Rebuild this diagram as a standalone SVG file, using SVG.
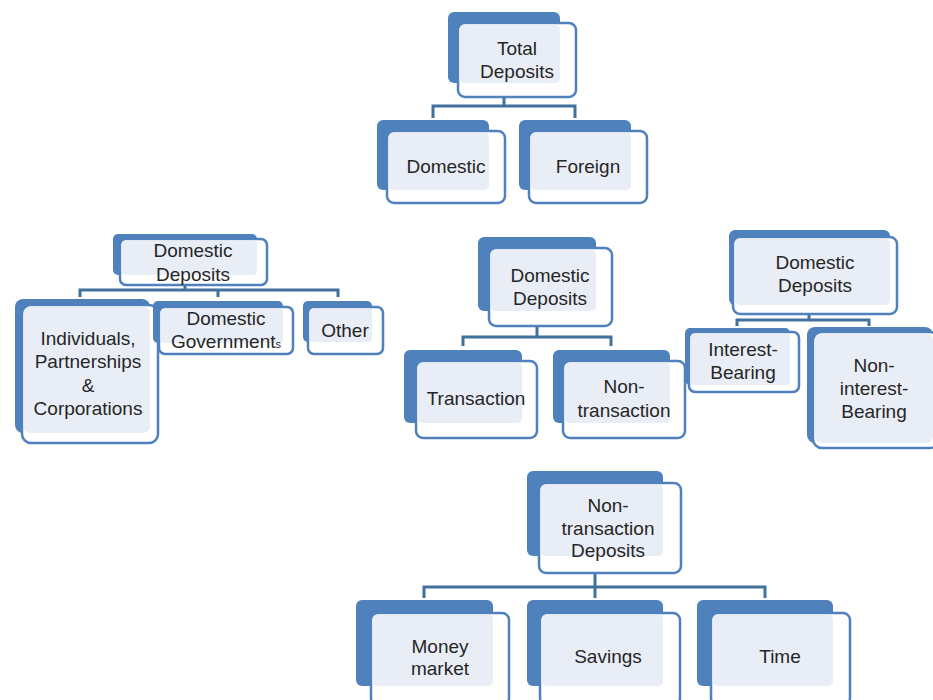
<svg xmlns="http://www.w3.org/2000/svg" width="933" height="700" viewBox="0 0 933 700">
<style>
.bk{fill:#4f81bd}
.fr{fill:#ffffff;stroke:#4f81bd;stroke-width:2.5}
.in{fill:#e9eef6}
.c{fill:none;stroke:#41719c;stroke-width:3}
text{font-family:"Liberation Sans",Arial,sans-serif;font-size:19px;fill:#262626;text-anchor:middle}
</style>
<rect width="933" height="700" fill="#ffffff"/>
<g id="connectors">
<path class="c" d="M504 97V106M433 118V106H575V118"/>
<path class="c" d="M185 285V290M80 297V290H338V297M218 290V297"/>
<path class="c" d="M537 326V337M463 346V337H611V346"/>
<path class="c" d="M809 314V320M737 326V320H869V326"/>
<path class="c" d="M595 573V587M424 598V587H765V598M595 587V598"/>
</g>
<g id="total">
<rect class="bk" x="448" y="12" width="112" height="71" rx="6"/>
<rect class="fr" x="458" y="23" width="118" height="74" rx="7"/>
<rect class="in" x="459.5" y="24.5" width="100.5" height="58.5" rx="5"/>
<text x="517" y="55">Total</text><text x="517" y="78">Deposits</text>
</g>
<g id="domestic">
<rect class="bk" x="377" y="120" width="112" height="70" rx="6"/>
<rect class="fr" x="387" y="131" width="118" height="72" rx="7"/>
<rect class="in" x="388.5" y="132.5" width="100.5" height="57.5" rx="5"/>
<text x="446" y="173">Domestic</text>
</g>
<g id="foreign">
<rect class="bk" x="519" y="120" width="112" height="70" rx="6"/>
<rect class="fr" x="529" y="131" width="118" height="72" rx="7"/>
<rect class="in" x="530.5" y="132.5" width="100.5" height="57.5" rx="5"/>
<text x="588" y="173">Foreign</text>
</g>
<g id="dd-left">
<rect class="bk" x="113" y="234" width="144" height="41" rx="5"/>
<rect class="fr" x="120" y="239" width="147" height="46" rx="6"/>
<rect class="in" x="121.5" y="240.5" width="135.5" height="34.5" rx="4"/>
<text x="193" y="257">Domestic</text><text x="193" y="281">Deposits</text>
</g>
<g id="individuals">
<rect class="bk" x="15" y="299" width="135" height="134" rx="8"/>
<rect class="fr" x="22" y="305" width="136" height="138" rx="9"/>
<rect class="in" x="23.5" y="306.5" width="126.5" height="126.5" rx="7"/>
<text x="88" y="345">Individuals,</text><text x="88" y="368">Partnerships</text><text x="88" y="392">&amp;</text><text x="88" y="415">Corporations</text>
</g>
<g id="governments">
<rect class="bk" x="153" y="301" width="130" height="42" rx="5"/>
<rect class="fr" x="159" y="307" width="134" height="47" rx="6"/>
<rect class="in" x="160.5" y="308.5" width="122.5" height="34.5" rx="4"/>
<text x="226" y="325">Domestic</text><text x="226" y="348">Government<tspan font-size="11px">s</tspan></text>
</g>
<g id="other">
<rect class="bk" x="303" y="301" width="69" height="41" rx="5"/>
<rect class="fr" x="308" y="307" width="75" height="47" rx="6"/>
<rect class="in" x="309.5" y="308.5" width="62.5" height="33.5" rx="4"/>
<text x="345" y="337">Other</text>
</g>
<g id="dd-mid">
<rect class="bk" x="478" y="237" width="118" height="74" rx="6"/>
<rect class="fr" x="489" y="248" width="123" height="78" rx="7"/>
<rect class="in" x="490.5" y="249.5" width="105.5" height="61.5" rx="5"/>
<text x="550" y="282">Domestic</text><text x="550" y="305">Deposits</text>
</g>
<g id="transaction">
<rect class="bk" x="404" y="350" width="118" height="73" rx="6"/>
<rect class="fr" x="416" y="361" width="121" height="77" rx="7"/>
<rect class="in" x="417.5" y="362.5" width="104.5" height="60.5" rx="5"/>
<text x="476" y="405">Transaction</text>
</g>
<g id="nontransaction">
<rect class="bk" x="553" y="350" width="117" height="73" rx="6"/>
<rect class="fr" x="563" y="361" width="122" height="77" rx="7"/>
<rect class="in" x="564.5" y="362.5" width="105.5" height="60.5" rx="5"/>
<text x="624" y="393">Non-</text><text x="624" y="417">transaction</text>
</g>
<g id="dd-right">
<rect class="bk" x="729" y="230" width="161" height="75" rx="6"/>
<rect class="fr" x="733" y="237" width="164" height="77" rx="7"/>
<rect class="in" x="734.5" y="238.5" width="155.5" height="66.5" rx="5"/>
<text x="815" y="269">Domestic</text><text x="815" y="292">Deposits</text>
</g>
<g id="interest">
<rect class="bk" x="685" y="328" width="105" height="57" rx="5"/>
<rect class="fr" x="689" y="332" width="110" height="60" rx="6"/>
<rect class="in" x="690.5" y="333.5" width="99.5" height="51.5" rx="4"/>
<text x="743" y="356">Interest-</text><text x="743" y="379">Bearing</text>
</g>
<g id="noninterest">
<rect class="bk" x="807" y="327" width="126" height="116" rx="8"/>
<rect class="fr" x="813" y="332" width="126" height="116" rx="9"/>
<rect class="in" x="814.5" y="333.5" width="118.5" height="109.5" rx="7"/>
<text x="874" y="372">Non-</text><text x="874" y="395">interest-</text><text x="874" y="418">Bearing</text>
</g>
<g id="ntd">
<rect class="bk" x="527" y="471" width="136" height="85" rx="6"/>
<rect class="fr" x="539" y="483" width="142" height="90" rx="7"/>
<rect class="in" x="540.5" y="484.5" width="122.5" height="71.5" rx="5"/>
<text x="608" y="512">Non-</text><text x="608" y="535">transaction</text><text x="608" y="557">Deposits</text>
</g>
<g id="money">
<rect class="bk" x="356" y="600" width="137" height="86" rx="6"/>
<rect class="fr" x="371" y="613" width="138" height="92" rx="7"/>
<rect class="in" x="372.5" y="614.5" width="120.5" height="71.5" rx="5"/>
<text x="440" y="653">Money</text><text x="440" y="675">market</text>
</g>
<g id="savings">
<rect class="bk" x="527" y="600" width="136" height="86" rx="6"/>
<rect class="fr" x="540" y="613" width="140" height="92" rx="7"/>
<rect class="in" x="541.5" y="614.5" width="121.5" height="71.5" rx="5"/>
<text x="608" y="663">Savings</text>
</g>
<g id="time">
<rect class="bk" x="697" y="600" width="136" height="86" rx="6"/>
<rect class="fr" x="711" y="613" width="139" height="92" rx="7"/>
<rect class="in" x="712.5" y="614.5" width="120.5" height="71.5" rx="5"/>
<text x="780" y="663">Time</text>
</g>
</svg>
